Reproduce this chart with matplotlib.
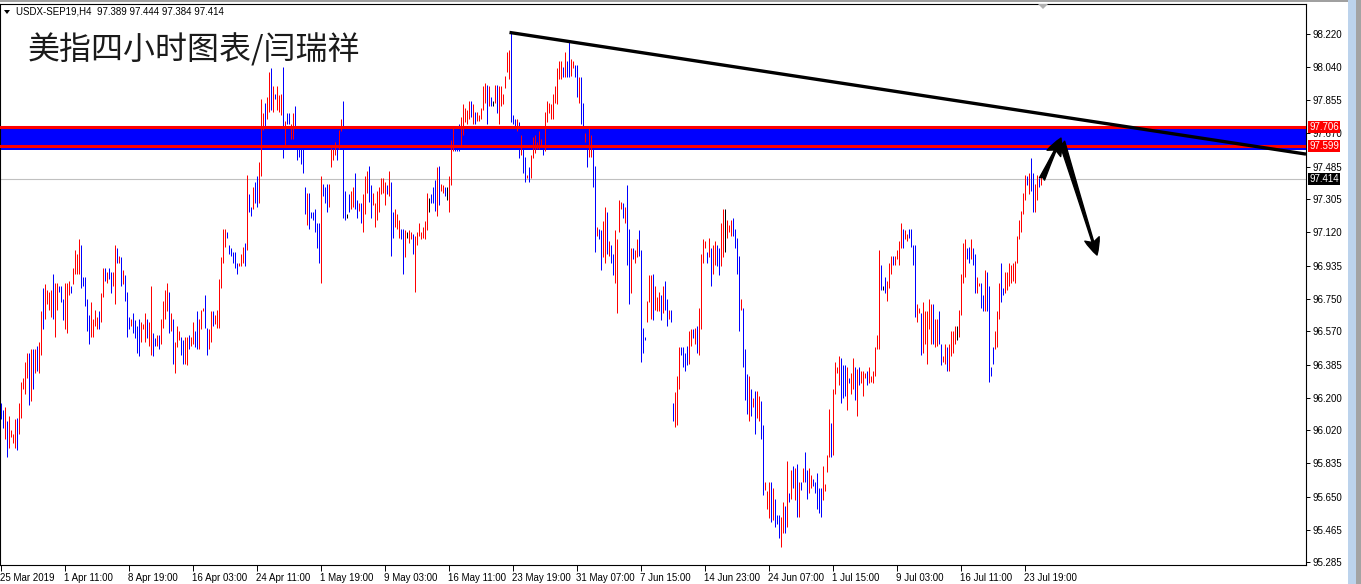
import matplotlib.pyplot as plt
from matplotlib.patches import Rectangle, Polygon
from matplotlib.transforms import blended_transform_factory

plt.rcParams['font.family'] = ['Liberation Sans', 'DejaVu Sans']

# H4 bars: high, low, colour (r = up, b = down, k = doji)
hi = [96.17, 96.13, 96.15, 96.07, 96.10, 96.02, 96.00, 96.08, 96.09, 96.17,
      96.29, 96.31, 96.40, 96.45, 96.45, 96.47, 96.47, 96.47, 96.49, 96.51,
      96.68, 96.81, 96.83, 96.80, 96.79, 96.80, 96.89, 96.84, 96.84, 96.82,
      96.82, 96.75, 96.84, 96.84, 96.85, 96.82, 96.92, 97.02, 97.00, 97.08,
      97.05, 96.87, 96.87, 96.75, 96.66, 96.73, 96.64, 96.69, 96.65, 96.68,
      96.78, 96.92, 96.92, 96.90, 96.92, 96.90, 96.90, 97.05, 97.03, 96.99,
      96.98, 96.91, 96.88, 96.79, 96.65, 96.64, 96.67, 96.63, 96.60, 96.64,
      96.62, 96.61, 96.67, 96.64, 96.62, 96.82, 96.56, 96.53, 96.55, 96.55,
      96.64, 96.74, 96.80, 96.84, 96.79, 96.67, 96.64, 96.51, 96.60, 96.57,
      96.54, 96.52, 96.54, 96.54, 96.55, 96.54, 96.62, 96.57, 96.68, 96.64,
      96.69, 96.70, 96.77, 96.59, 96.58, 96.68, 96.68, 96.66, 96.69, 96.86,
      96.98, 97.14, 97.14, 97.12, 97.05, 97.03, 97.01, 97.01, 96.95, 96.95,
      97.00, 97.04, 97.06, 97.44, 97.33, 97.26, 97.37, 97.40, 97.43, 97.51,
      97.86,
      97.78, 97.84, 97.87, 98.01, 98.03, 97.93, 97.89, 97.93, 97.88, 97.89,
      98.04, 97.74, 97.78, 97.78, 97.72, 97.78, 97.82, 97.58, 97.58, 97.58,
      97.58, 97.37, 97.34, 97.34, 97.23, 97.23, 97.25, 97.17, 97.17, 97.43,
      97.39, 97.37, 97.39, 97.39, 97.59, 97.58, 97.62, 97.58, 97.69, 97.75,
      97.85, 97.35, 97.22, 97.33, 97.35, 97.37, 97.45, 97.30, 97.28, 97.28,
      97.33, 97.43, 97.46, 97.49, 97.38, 97.34, 97.28, 97.35, 97.37, 97.42,
      97.42, 97.40, 97.38, 97.46, 97.40, 97.23, 97.25, 97.22, 97.19, 97.14,
      97.14, 97.13, 97.12, 97.13, 97.12, 97.11, 97.10, 97.12, 97.17, 97.12,
      97.15, 97.18, 97.34, 97.31, 97.33, 97.37, 97.41, 97.48, 97.49, 97.39,
      97.38, 97.37, 97.37, 97.43, 97.63, 97.70, 97.59, 97.62, 97.72, 97.76,
      97.83, 97.81, 97.80, 97.85, 97.85, 97.83, 97.79, 97.79, 97.77, 97.81,
      97.93, 97.95, 97.94, 97.93, 97.87, 97.85, 97.94, 97.94, 97.93, 97.93,
      97.89, 97.99, 98.12, 98.13, 98.23, 97.77, 97.75, 97.75, 97.73, 97.66,
      97.60,
      97.54, 97.44, 97.48, 97.55, 97.65, 97.66, 97.62, 97.68, 97.64, 97.64,
      97.79, 97.85, 97.84, 97.83, 97.89, 97.93, 98.03, 98.07, 98.07, 98.04,
      98.12, 98.07, 98.18, 98.08, 98.07, 98.05, 98.05, 97.98, 97.98, 97.84,
      97.67, 97.62, 97.70, 97.66, 97.59, 97.49, 97.15, 97.14, 97.13, 97.18,
      97.26, 97.23, 97.07, 97.05, 97.00, 97.13, 97.08, 97.30, 97.29, 97.28,
      97.26, 97.38, 97.14, 97.03, 97.03, 97.02, 97.08, 97.13, 97.02, 96.59,
      96.54, 96.74, 96.88, 96.88, 96.89, 96.82, 96.76, 96.79, 96.77, 96.82,
      96.85, 96.75, 96.69, 96.69, 96.17, 96.23, 96.32, 96.48, 96.48, 96.48,
      96.45, 96.49, 96.57, 96.58, 96.58, 96.59, 96.60, 96.70, 97.00, 97.08,
      97.07, 97.01, 97.09, 97.03, 97.05, 97.07, 97.05, 97.03, 97.17, 97.25,
      97.25, 97.19, 97.16, 97.19, 97.20, 97.14, 97.09, 96.99, 96.75, 96.70,
      96.47, 96.33, 96.32, 96.25, 96.20, 96.24, 96.24, 96.21, 96.18, 96.05,
      95.73, 95.68, 95.73, 95.73, 95.70, 95.64, 95.55, 95.55, 95.54, 95.62,
      95.60,
      95.85, 95.67, 95.80, 95.82, 95.81, 95.83, 95.73, 95.73, 95.81, 95.90,
      95.80, 95.81, 95.77, 95.75, 95.73, 95.78, 95.70, 95.70, 95.82, 95.72,
      95.88, 96.14, 96.06, 96.25, 96.40, 96.37, 96.43, 96.42, 96.38, 96.38,
      96.37, 96.31, 96.34, 96.42, 96.37, 96.36, 96.37, 96.35, 96.35, 96.34,
      96.35, 96.37, 96.32, 96.35, 96.48, 96.55, 97.02, 96.94, 96.82, 96.87,
      96.85, 96.95, 96.99, 96.99, 96.99, 97.02, 97.07, 97.17, 97.14, 97.13,
      97.11, 97.14, 97.14, 97.05, 97.05, 96.72, 96.70, 96.67, 96.73, 96.68,
      96.68, 96.75, 96.72, 96.72, 96.64, 96.64, 96.68, 96.50, 96.43, 96.50,
      96.48, 96.50, 96.57, 96.57, 96.60, 96.60, 96.69, 96.89, 97.06, 97.08,
      97.03, 97.04, 97.08, 97.03, 97.00, 96.87, 96.84, 96.84, 96.77, 96.91,
      96.90, 96.82, 96.37, 96.48, 96.57, 96.68, 96.84, 96.95, 96.81, 96.90,
      96.90, 96.95, 96.94, 96.95, 96.96, 97.10, 97.19, 97.24, 97.34, 97.44,
      97.43, 97.45, 97.53, 97.45, 97.39, 97.44, 97.42, 97.444]
lo = [96.08, 96.03, 95.97, 95.87, 95.92, 95.98, 95.95, 95.92, 95.91, 96.00,
      96.09, 96.25, 96.22, 96.31, 96.16, 96.18, 96.25, 96.34, 96.35, 96.34,
      96.44, 96.58, 96.64, 96.72, 96.69, 96.65, 96.64, 96.54, 96.69, 96.79,
      96.73, 96.63, 96.58, 96.56, 96.77, 96.78, 96.83, 96.89, 96.89, 96.89,
      96.81, 96.82, 96.71, 96.57, 96.50, 96.54, 96.54, 96.60, 96.58, 96.58,
      96.62, 96.76, 96.85, 96.84, 96.86, 96.78, 96.82, 96.72, 96.95, 96.95,
      96.82, 96.83, 96.74, 96.54, 96.58, 96.60, 96.56, 96.53, 96.45, 96.43,
      96.51, 96.58, 96.51, 96.53, 96.49, 96.44, 96.43, 96.49, 96.49, 96.47,
      96.50, 96.59, 96.64, 96.68, 96.56, 96.57, 96.39, 96.34, 96.48, 96.52,
      96.44, 96.39, 96.39, 96.38, 96.47, 96.49, 96.50, 96.48, 96.47, 96.47,
      96.58, 96.68, 96.59, 96.44, 96.47, 96.51, 96.60, 96.61, 96.59, 96.59,
      96.81, 96.95, 97.04, 97.09, 97.00, 96.99, 96.95, 96.92, 96.89, 96.93,
      96.93, 96.95, 96.93, 97.02, 97.23, 97.21, 97.25, 97.28, 97.26, 97.28,
      97.43,
      97.69, 97.70, 97.75, 97.79, 97.80, 97.79, 97.86, 97.80, 97.79, 97.77,
      97.53, 97.60, 97.72, 97.72, 97.64, 97.64, 97.69, 97.52, 97.54, 97.50,
      97.45, 97.22, 97.16, 97.14, 97.20, 97.19, 97.12, 97.03, 96.95, 96.84,
      97.32, 97.28, 97.23, 97.26, 97.48, 97.52, 97.55, 97.52, 97.58, 97.68,
      97.20, 97.19, 97.20, 97.23, 97.25, 97.26, 97.25, 97.20, 97.24, 97.17,
      97.12, 97.22, 97.34, 97.29, 97.20, 97.27, 97.15, 97.19, 97.23, 97.33,
      97.34, 97.27, 97.33, 97.32, 96.99, 97.09, 97.15, 97.14, 97.09, 97.08,
      96.89, 96.98, 97.09, 97.06, 97.08, 97.00, 96.79, 97.05, 97.10, 97.08,
      97.09, 97.08, 97.13, 97.23, 97.28, 97.28, 97.24, 97.21, 97.27, 97.35,
      97.34, 97.32, 97.30, 97.23, 97.38, 97.57, 97.57, 97.57, 97.57, 97.60,
      97.66, 97.73, 97.72, 97.75, 97.76, 97.72, 97.72, 97.74, 97.74, 97.75,
      97.80, 97.84, 97.72, 97.82, 97.82, 97.82, 97.84, 97.78, 97.72, 97.82,
      97.83, 97.92, 98.01, 97.97, 97.73, 97.72, 97.70, 97.68, 97.53, 97.55,
      97.45,
      97.40, 97.42, 97.40, 97.42, 97.53, 97.56, 97.58, 97.58, 97.60, 97.55,
      97.57, 97.73, 97.78, 97.75, 97.75, 97.84, 97.83, 97.97, 97.97, 97.98,
      97.98, 97.98, 97.98, 97.99, 98.03, 97.98, 97.87, 97.84, 97.72, 97.67,
      97.62, 97.48, 97.54, 97.54, 97.37, 97.01, 97.10, 97.08, 96.91, 96.98,
      96.95, 97.00, 96.99, 96.95, 96.88, 96.84, 96.67, 97.12, 97.25, 97.20,
      97.17, 96.94, 96.72, 96.78, 96.97, 96.95, 96.98, 96.99, 96.40, 96.45,
      96.52, 96.62, 96.73, 96.64, 96.63, 96.69, 96.68, 96.68, 96.63, 96.67,
      96.69, 96.60, 96.64, 96.62, 96.07, 96.04, 96.05, 96.25, 96.44, 96.37,
      96.35, 96.38, 96.39, 96.49, 96.53, 96.50, 96.45, 96.44, 96.58, 96.95,
      97.03, 96.95, 96.98, 96.82, 96.89, 96.94, 96.93, 96.88, 96.93, 96.98,
      97.01, 97.09, 97.12, 97.10, 97.10, 97.03, 96.89, 96.57, 96.69, 96.37,
      96.19, 96.11, 96.07, 96.10, 96.15, 96.00, 96.09, 96.07, 95.97, 95.66,
      95.69, 95.58, 95.53, 95.51, 95.52, 95.48, 95.50, 95.42, 95.37, 95.45,
      95.45,
      95.48, 95.62, 95.64, 95.70, 95.63, 95.54, 95.54, 95.69, 95.73, 95.73,
      95.64, 95.67, 95.70, 95.71, 95.67, 95.58, 95.56, 95.54, 95.63, 95.68,
      95.79, 95.87, 95.87, 95.88, 96.22, 96.34, 96.27, 96.17, 96.20, 96.21,
      96.13, 96.28, 96.22, 96.25, 96.19, 96.10, 96.27, 96.28, 96.21, 96.31,
      96.27, 96.28, 96.29, 96.28, 96.32, 96.47, 96.47, 96.80, 96.80, 96.78,
      96.74, 96.81, 96.89, 96.94, 96.94, 96.97, 96.94, 97.03, 97.03, 97.08,
      97.07, 97.09, 97.04, 96.94, 96.65, 96.62, 96.67, 96.44, 96.45, 96.50,
      96.39, 96.58, 96.50, 96.50, 96.48, 96.49, 96.50, 96.38, 96.40, 96.39,
      96.35, 96.35, 96.43, 96.45, 96.50, 96.52, 96.54, 96.66, 96.84, 96.87,
      96.97, 96.95, 96.97, 96.94, 96.78, 96.78, 96.82, 96.70, 96.68, 96.68,
      96.68, 96.29, 96.32, 96.39, 96.47, 96.48, 96.64, 96.73, 96.77, 96.78,
      96.80, 96.82, 96.84, 96.85, 96.84, 96.95, 97.08, 97.12, 97.22, 97.30,
      97.38, 97.33, 97.35, 97.23, 97.23, 97.30, 97.37, 97.384]
col = ("bbrbrrrrbr" "rrrrbrbrbr" "rbrrrrbrrb" "bbrrrbrrrr" "bbbbbrrrrb"
       "rrbrbbrrbr" "brbbbrbbbb" "rrrbrrbbrb" "rrrrbrbrrr" "bbrrbrrbbr"
       "rrbbrrbrrr" "rrrbbbbbbr" "rrbrbbrbbrr"
       "rbrrbrbrrr" "brbbrrbbbb" "bbrbbbbbbr" "bbbrrrrbrr" "bbkbrrbbrb"
       "rrrbbrrrrr" "rrbrbbrrrb" "brkrrbrrrr" "rrrkbbbrbr" "rbkrrrbbbr"
       "rrrrbrbrrr" "rrbrbkrbrr" "rrrrbbbrbrb"
       "brbrrrrrrb" "rrrrrrrrrb" "rbbrrbbrbb" "rbrrbbrbbr" "rbrbbrrrrb"
       "rbbrbrrbbb" "brrrbrrrbr" "bbrbbrrrbb" "bbrrbrbrrr" "rbrbrrbbrr"
       "krrrbbbbrb" "bbrbrbrrbb" "rrrbrbbbrrb"
       "rbrbrbrbrb" "brrbbbbbrr" "rrbrrrrbbb" "rbrrbrbrrr" "brrrrrrbkb"
       "rrrbrrrrbr" "rbbbbrrbrr" "rrrbrrbbrr" "brrrrkrrrr" "bbrbbrrbbr"
       "bbbbrrrbbr" "rrrrrrrrrr" "brbbrrbr")

tick_labels = ["25 Mar 2019", "1 Apr 11:00", "8 Apr 19:00", "16 Apr 03:00",
               "24 Apr 11:00", "1 May 19:00", "9 May 03:00", "16 May 11:00",
               "23 May 19:00", "31 May 07:00", "7 Jun 15:00", "14 Jun 23:00",
               "24 Jun 07:00", "1 Jul 15:00", "9 Jul 03:00", "16 Jul 11:00",
               "23 Jul 19:00"]
price_ticks = [98.220, 98.040, 97.855, 97.670, 97.485, 97.305, 97.120, 96.935,
               96.750, 96.570, 96.385, 96.200, 96.020, 95.835, 95.650, 95.465,
               95.285]
zone = (97.599, 97.706)
last_price = 97.414
trend = ((254.5, 98.23), (652.75, 97.554))
arrow_up = ((520.75, 97.416), (530.25, 97.643))
arrow_down = ((530.75, 97.621), (548.25, 96.993))

assert len(hi) == len(lo) == len(col)

W, H = 1361, 584
fig = plt.figure(figsize=(W / 100, H / 100), dpi=100)
fig.patch.set_facecolor('white')
ax = fig.add_axes([0, 19 / H, 1306 / W, 561 / H])
ax.set_xlim(-0.25, 652.75)
ax.set_ylim(95.271, 98.388)

# window decorations
fig.patches.append(Rectangle((0, 1 - 2 / H), 1, 2 / H, transform=fig.transFigure,
                             fc='#a0a0a0', ec='none'))
fig.patches.append(Rectangle((1348 / W, 0), 8 / W, 1, transform=fig.transFigure,
                             fc='#bcd3ec', ec='none'))
fig.patches.append(Rectangle((1356 / W, 0), 5 / W, 1, transform=fig.transFigure,
                             fc='#a3a3a3', ec='none'))
fig.patches.append(Polygon([(4 / W, 1 - 10 / H), (10 / W, 1 - 10 / H), (7 / W, 1 - 14 / H)],
                           closed=True, transform=fig.transFigure, fc='black', ec='none'))
fig.patches.append(Polygon([(1038 / W, 1 - 4 / H), (1048 / W, 1 - 4 / H), (1043 / W, 1 - 9 / H)],
                           closed=True, transform=fig.transFigure, fc='#b0b0b0', ec='none'))

# resistance zone + price lines
ax.axhspan(97.577, 97.710, fc='#0000ff', ec='none', zorder=1)
for z in zone:
    ax.axhline(z, color='#ff0000', lw=2.2, zorder=4)
ax.axhline(last_price, color='#c0c0c0', lw=0.8, zorder=1)

# bars, one pixel wide on a two pixel pitch
cmap = {'r': '#ff0000', 'b': '#0000ff', 'k': '#000000'}
x = list(range(len(hi)))
ax.vlines(x, lo, hi, colors=[cmap[c] for c in col],
          linewidth=0.72, antialiased=True, zorder=3)

# trend line and arrows
ax.plot([trend[0][0], trend[1][0]], [trend[0][1], trend[1][1]],
        color='black', lw=2.4, solid_capstyle='butt', zorder=5, clip_on=False)
for a in (arrow_up, arrow_down):
    ax.annotate('', xy=a[1], xytext=a[0],
                arrowprops=dict(arrowstyle='fancy,head_length=0.45,head_width=0.4,tail_width=0.15',
                                mutation_scale=27, fc='black', ec='black',
                                shrinkA=0, shrinkB=0), zorder=6)

# axes styling
for s in ax.spines.values():
    s.set_color('black')
    s.set_linewidth(0.8)
ax.yaxis.tick_right()
ax.set_yticks(price_ticks)
ax.set_yticklabels(['%.3f' % p for p in price_ticks])
ax.tick_params(axis='y', direction='out', length=3, width=0.7, pad=2,
               labelsize=7, colors='black')
ax.set_xticks([32 * k for k in range(len(tick_labels))])
ax.set_xticklabels(tick_labels, ha='left')
ax.tick_params(axis='x', direction='out', length=4, width=0.7, pad=2,
               labelsize=7, colors='black')

# price labels on the right
tr = blended_transform_factory(ax.transAxes, ax.transData)
for val, bg in ((zone[1], '#ff0000'), (zone[0], '#ff0000'), (last_price, '#000000')):
    ax.text(1.0025, val, '%.3f' % val, transform=tr, ha='left', va='center',
            color='white', fontsize=7, zorder=7, clip_on=False,
            bbox=dict(boxstyle='square,pad=0.12', fc=bg, ec='none'))

fig.text(16 / W, 1 - 12 / H, 'USDX-SEP19,H4  97.389 97.444 97.384 97.414',
         fontsize=7, va='center', ha='left', color='black')
fig.text(28 / W, 1 - 50 / H, '美指四小时图表/闫瑞祥', fontsize=23, va='center',
         ha='left', color='#1a1a1a', family=['Noto Sans CJK SC', 'DejaVu Sans'])

fig.savefig('out.png', dpi=100, facecolor='white')
